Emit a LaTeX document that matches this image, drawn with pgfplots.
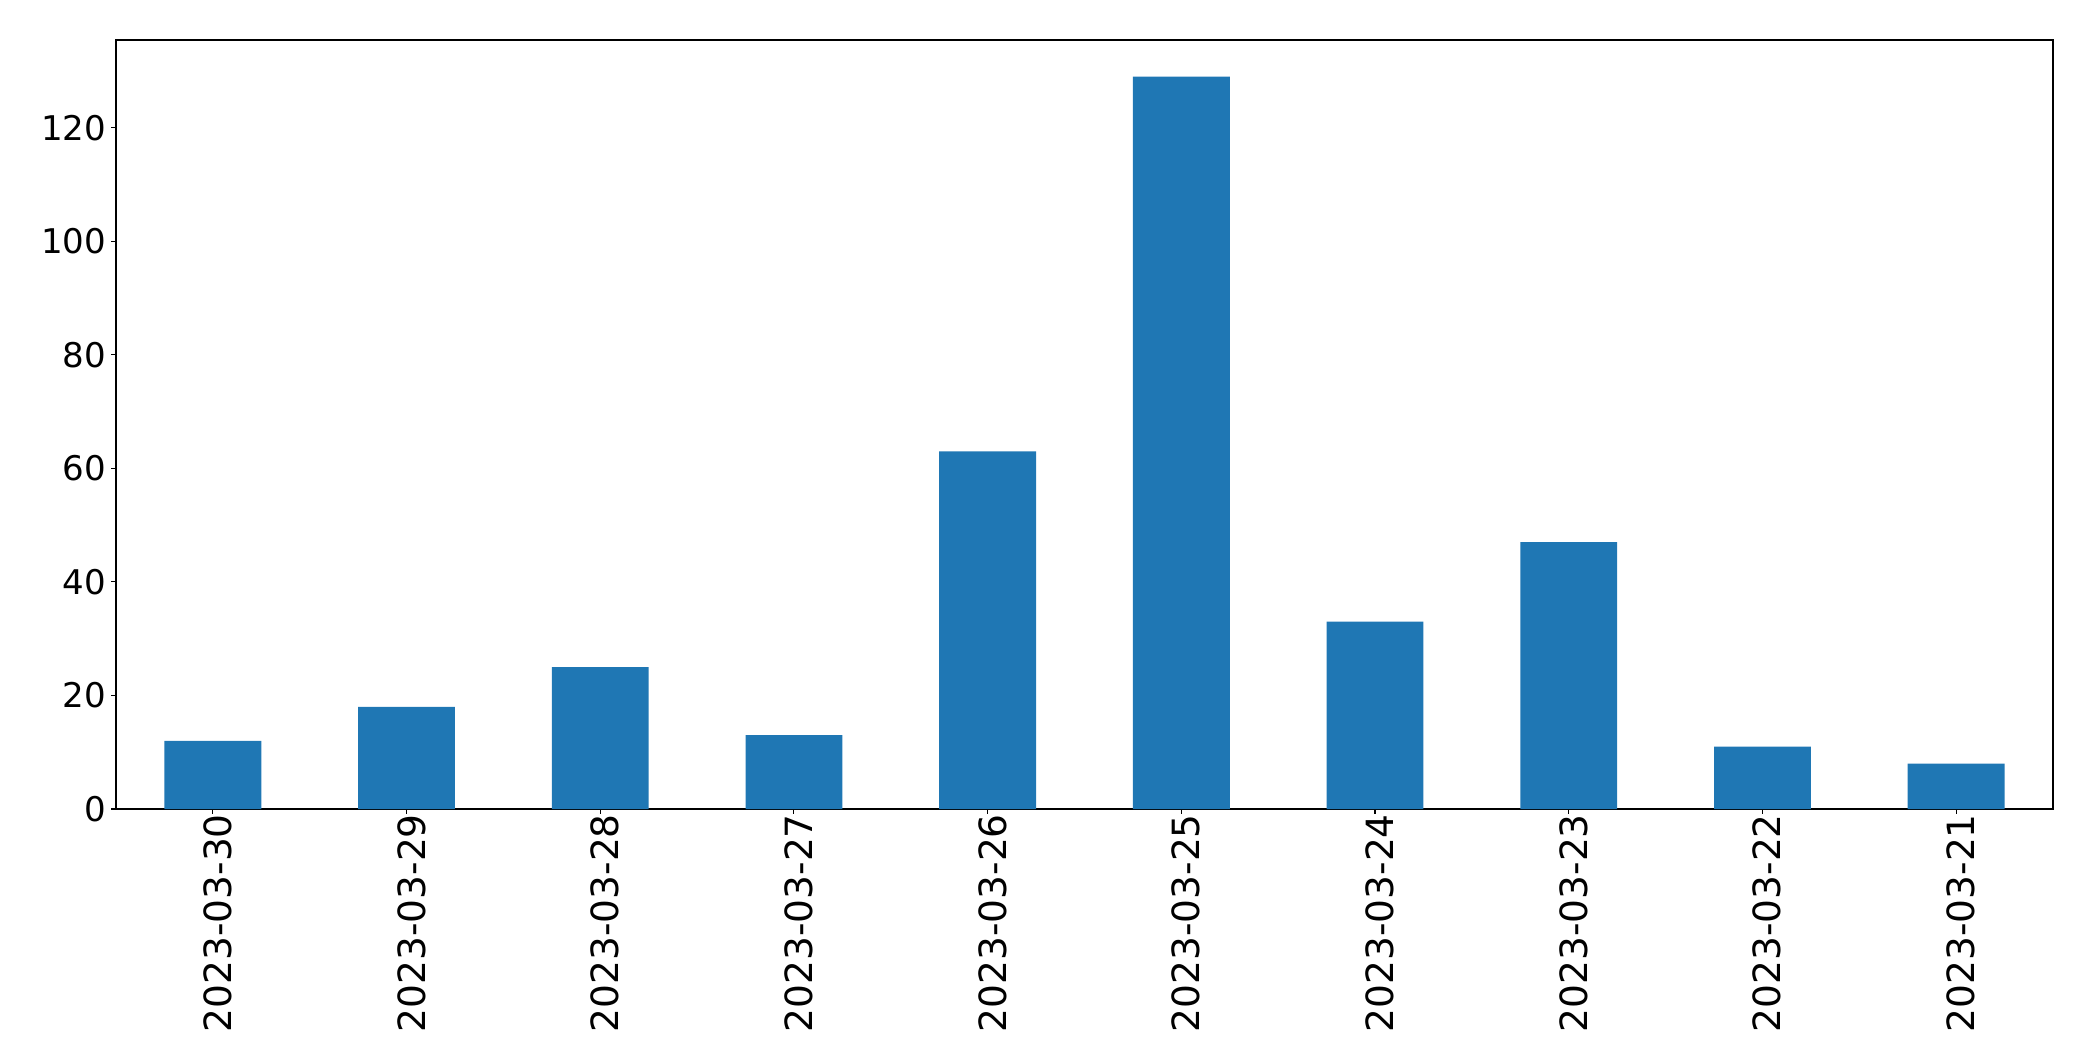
\documentclass[border=0pt]{standalone}
\usepackage{pgfplots}
\pgfplotsset{compat=1.18}
\usepackage{fontspec}
\setmainfont{DejaVu Sans}
\definecolor{barblue}{HTML}{1F77B4}
\begin{document}
\fontsize{24bp}{28.8bp}\selectfont
\begin{tikzpicture}
\useasboundingbox (-83.52bp,-181.44bp) rectangle (1423.44bp,582.48bp);
\begin{axis}[
  at={(0,0)}, anchor=south west, scale only axis,
  width=1394.64bp, height=553.68bp,
  xmin=-0.5, xmax=9.5, ymin=0, ymax=135.45,
  xtick={0,1,2,3,4,5,6,7,8,9},
  xticklabels={2023-03-30,2023-03-29,2023-03-28,2023-03-27,2023-03-26,2023-03-25,2023-03-24,2023-03-23,2023-03-22,2023-03-21},
  ytick={0,20,40,60,80,100,120},
  tick align=outside, major tick length=3.5bp,
  tick pos=left,
  axis line style={line width=0.8bp},
  every tick/.style={line width=0.8bp, black},
  /pgf/number format/assume math mode=true,
  y tick label style={font=\fontsize{24.5bp}{29bp}\selectfont, anchor=east, inner sep=0pt, xshift=-3.5bp},
  x tick label style={font=\fontsize{27bp}{32bp}\selectfont, rotate=90, anchor=east, inner sep=0pt, yshift=-3.5bp},
  ybar, bar width=0.5,
]
\addplot[fill=barblue, draw=none, bar shift=0pt] coordinates {
  (0,12) (1,18) (2,25) (3,13) (4,63) (5,129) (6,33) (7,47) (8,11) (9,8)
};
\end{axis}
\end{tikzpicture}
\end{document}
